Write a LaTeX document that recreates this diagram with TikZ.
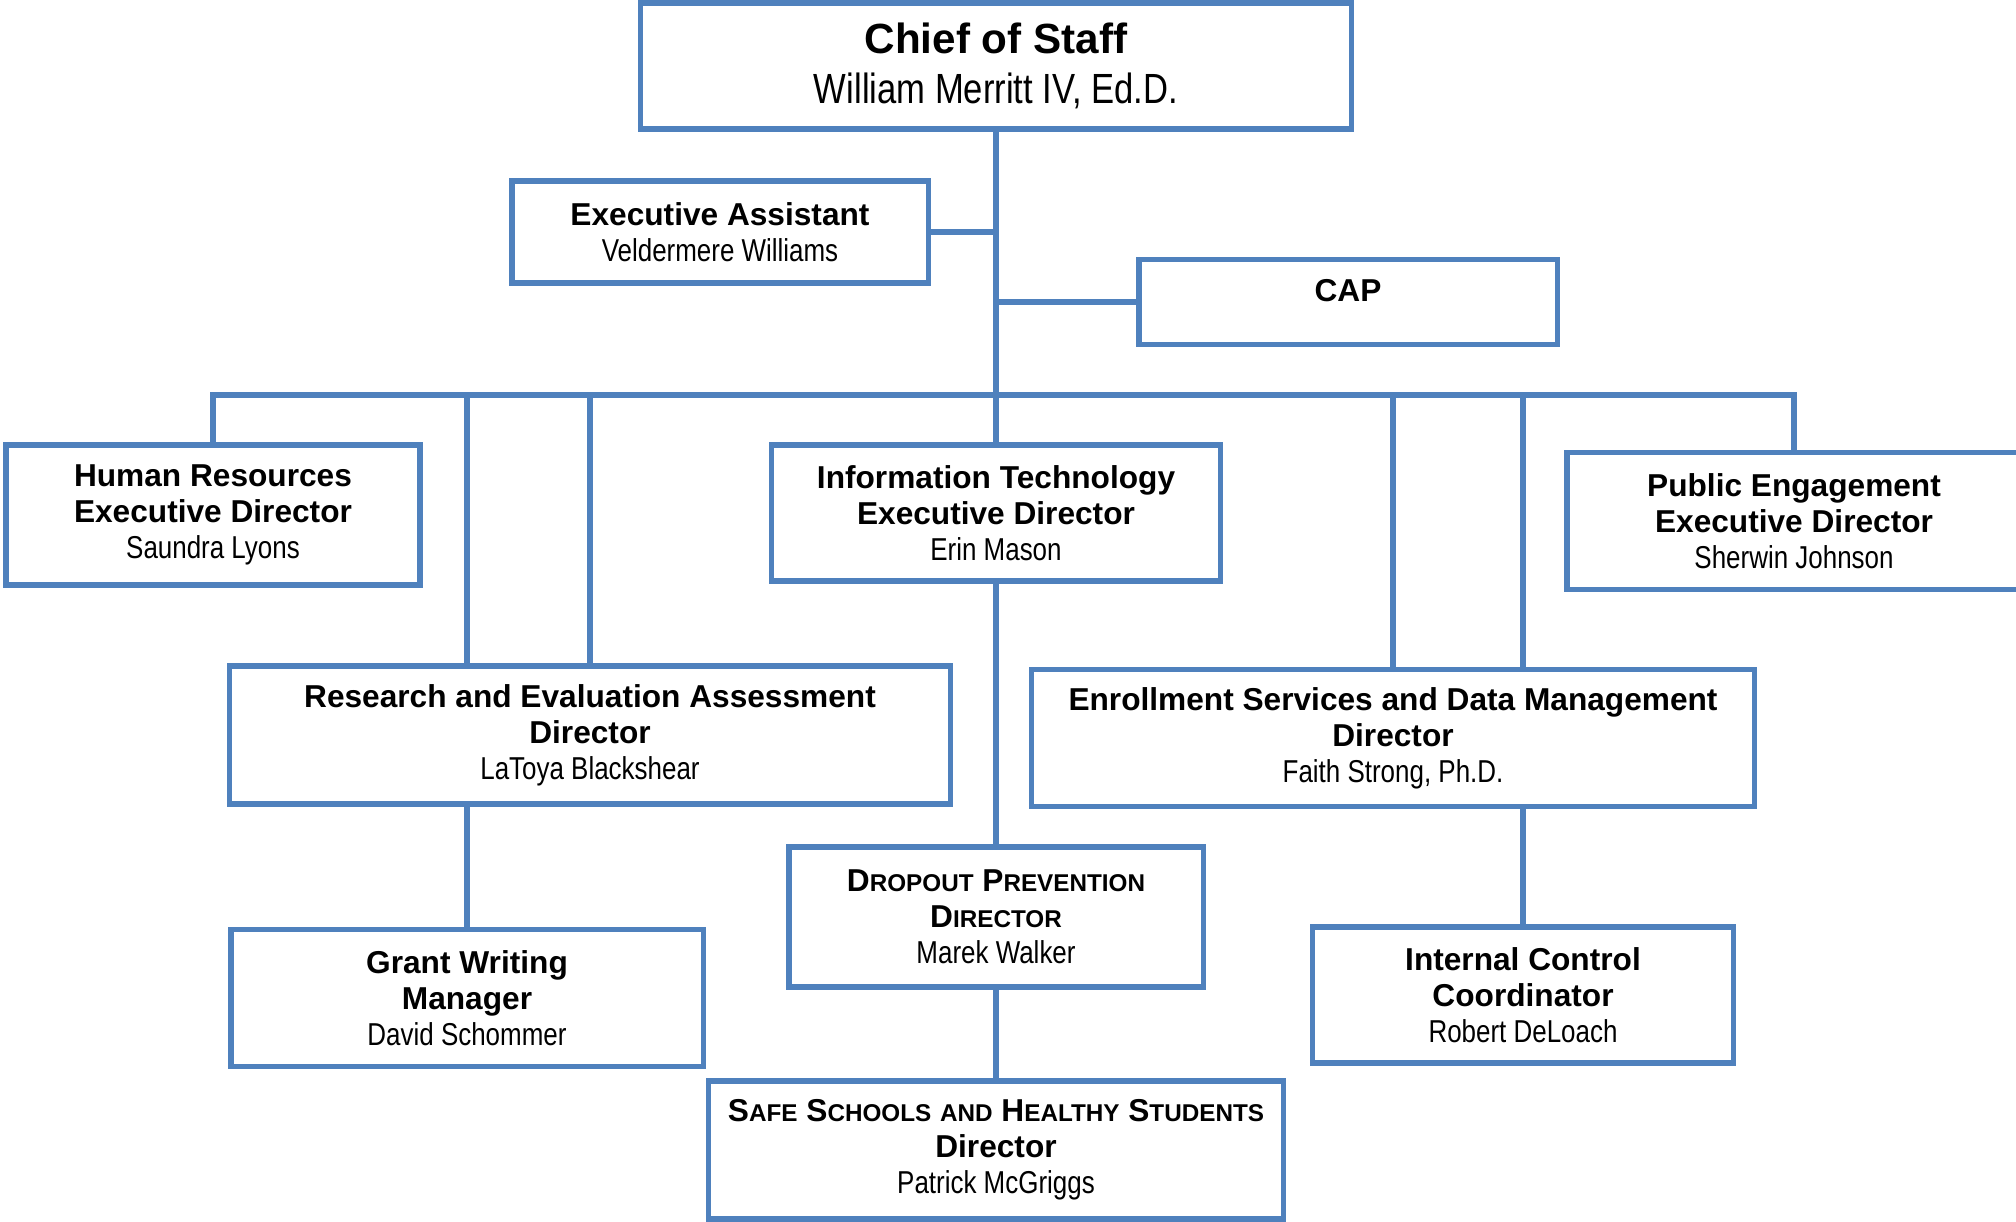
\documentclass[tikz,border=0pt]{standalone}
\usepackage{fontspec}
\setmainfont{Liberation Sans}
\newfontfamily\narrowfont[FakeStretch=0.82]{Liberation Sans}
\usetikzlibrary{
  backgrounds,
}
\definecolor{orgblue}{HTML}{4F81BD}
\newcommand{\scap}[1]{{\fontsize{6.9}{8}\selectfont #1}}
\tikzset{
  unit/.style={
    rectangle,
    draw=orgblue,
    line width=1.5pt,
    fill=white,
    align=center,
    inner sep=0pt,
    font=\fontsize{9}{10.2}\selectfont
  },
  head/.style={
    unit,
    font=\fontsize{12}{14.2}\selectfont
  },
  link/.style={
    draw=orgblue,
    line width=1.5pt,
  },
}

\begin{document}
\begin{tikzpicture}[x=0.01cm, y=-0.01cm]

  \useasboundingbox (0,0) rectangle (2016,1222);

  % top of the chart
  \node[head, minimum width=7.1cm, minimum height=1.26cm] (chief) at (996,66)
    {{\bfseries Chief of Staff}\\{\narrowfont William Merritt IV, Ed.D.}};
  \node[unit, minimum width=4.16cm, minimum height=1.02cm] (ea) at (720,232)
    {{\bfseries Executive Assistant}\\{\narrowfont Veldermere Williams}};
  \node[unit, minimum width=4.18cm, minimum height=0.85cm, text depth=0.24cm] (cap) at (1348,302)
    {\bfseries CAP};

  % first row
  \node[unit, minimum width=4.14cm, minimum height=1.40cm] (hr) at (213,515)
    {{\bfseries Human Resources}\\{\bfseries Executive Director}\\{\narrowfont Saundra Lyons}};
  \node[unit, minimum width=4.49cm, minimum height=1.36cm] (it) at (996,513)
    {{\bfseries Information Technology}\\{\bfseries Executive Director}\\{\narrowfont Erin Mason}};
  \node[unit, minimum width=4.54cm, minimum height=1.37cm] (pe) at (1794,521)
    {{\bfseries Public Engagement}\\{\bfseries Executive Director}\\{\narrowfont Sherwin Johnson}};

  % second row
  \node[unit, minimum width=7.21cm, minimum height=1.38cm] (rea) at (590,735)
    {{\bfseries Research and Evaluation Assessment}\\{\bfseries Director}\\{\narrowfont LaToya Blackshear}};
  \node[unit, minimum width=7.22cm, minimum height=1.37cm] (esdm) at (1393,738)
    {{\bfseries Enrollment Services and Data Management}\\{\bfseries Director}\\{\narrowfont Faith Strong, Ph.D.}};

  % lower rows
  \node[unit, minimum width=4.14cm, minimum height=1.40cm] (dp) at (996,917)
    {{\bfseries D\scap{ROPOUT} P\scap{REVENTION}}\\{\bfseries D\scap{IRECTOR}}\\{\narrowfont Marek Walker}};
  \node[unit, minimum width=4.72cm, minimum height=1.37cm] (gw) at (467,998)
    {{\bfseries Grant Writing}\\{\bfseries Manager}\\{\narrowfont David Schommer}};
  \node[unit, minimum width=4.21cm, minimum height=1.36cm] (ic) at (1523,995)
    {{\bfseries Internal Control}\\{\bfseries Coordinator}\\{\narrowfont Robert DeLoach}};
  \node[unit, minimum width=5.75cm, minimum height=1.38cm] (ss) at (996,1150)
    {{\bfseries S\scap{AFE} S\scap{CHOOLS} \scap{AND} H\scap{EALTHY} S\scap{TUDENTS}}\\{\bfseries Director}\\{\narrowfont Patrick McGriggs}};

  \coordinate (bus) at (996,395);

  % connectors behind the boxes
  \begin{scope}[on background layer]
    \draw[link] (chief.south) -- (ss.north);
    \draw[link] (ea.east) -- (ea.east -| chief.south);
    \draw[link] (cap.west) -- (cap.west -| chief.south);
    \draw[link] (hr.north) -- (hr.north |- bus) -| (pe.north);
    \draw[link] (rea.north) -- (rea.north |- bus);
    \draw[link] (gw.north) -- (gw.north |- bus);
    \draw[link] (esdm.north) -- (esdm.north |- bus);
    \draw[link] (ic.north) -- (ic.north |- bus);
  \end{scope}

\end{tikzpicture}
\end{document}
